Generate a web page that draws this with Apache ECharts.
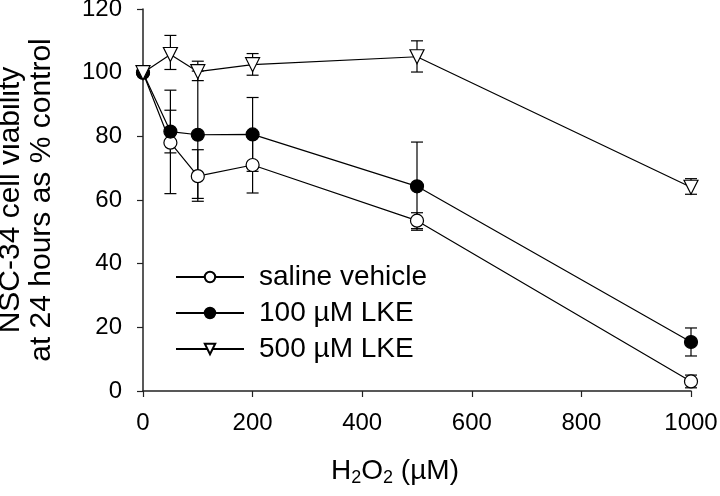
<!DOCTYPE html>
<html>
<head>
<meta charset="utf-8">
<script src="https://cdn.jsdelivr.net/npm/echarts@6/dist/echarts.min.js"></script>
<style>
	html, body {margin:0; padding:0; background:#fff;}
	#chart {width:720px; height:496px;}
</style>
</head>
<body>
<div id="chart"></div>
<script>
// H2O2 doses (uM)
var doseList = [0, 50, 100, 200, 500, 1000];

// saline vehicle
var salineMean = [100, 78, 67.5, 71, 53.5, 3];
var salineLow = [100, 62, 59.6, 62.2, 51, 1];
var salineHigh = [100, 94.5, 75.8, 79.8, 56, 5];

// 100 uM LKE
var lke100Mean = [100, 81.5, 80.5, 80.6, 64.3, 15.4];
var lke100Low = [100, 74.8, 60.5, 69, 50.5, 11];
var lke100High = [100, 88.2, 100.5, 92.2, 78.2, 19.8];

// 500 uM LKE
var lke500Mean = [100, 105.7, 100.3, 102.5, 105, 64];
var lke500Low = [100, 101, 97.5, 99.2, 100.2, 61.8];
var lke500High = [100, 111.7, 103.6, 106, 110, 66.7];

var seriesNames = ["saline vehicle", "100 µM LKE", "500 µM LKE"];
var xTicks = [0, 200, 400, 600, 800, 1000];
var yTicks = [0, 20, 40, 60, 80, 100, 120];

var FONT = "Liberation Sans, Arial, sans-serif";
var downTriangle = "path://M0,0 L10,0 L5,9 Z";

function toPoints(mean){
	var arr = [];
	for(var i=0;i<doseList.length;i++){
		arr.push([doseList[i], mean[i]]);
	}
	return arr;
}

function toBars(low, high){
	var arr = [];
	for(var i=0;i<doseList.length;i++){
		if(low[i] == high[i]) continue;
		arr.push([doseList[i], low[i], high[i]]);
	}
	return arr;
}

// vertical bar with caps
function renderErrorBar(params, api){
	var x = api.value(0);
	var lo = api.coord([x, api.value(1)]);
	var hi = api.coord([x, api.value(2)]);
	var half = 6;
	var style = {stroke: "#000", lineWidth: 1.2};
	return {
		type: "group",
		children: [
			{type: "line", shape: {x1: hi[0], y1: hi[1], x2: lo[0], y2: lo[1]}, style: style},
			{type: "line", shape: {x1: hi[0]-half, y1: hi[1], x2: hi[0]+half, y2: hi[1]}, style: style},
			{type: "line", shape: {x1: lo[0]-half, y1: lo[1], x2: lo[0]+half, y2: lo[1]}, style: style}
		]
	};
}

function errorSeries(low, high){
	return {
		type: "custom",
		renderItem: renderErrorBar,
		data: toBars(low, high),
		encode: {x: 0, y: [1, 2]},
		silent: true,
		z: 1
	};
}

function lineSeries(name, mean, symbol, fill, size){
	return {
		name: name,
		type: "line",
		data: toPoints(mean),
		symbol: symbol,
		symbolSize: size,
		showAllSymbol: true,
		lineStyle: {color: "#000", width: 1.2},
		itemStyle: {color: fill, borderColor: "#000", borderWidth: 1.2},
		emphasis: {disabled: true},
		z: 3
	};
}

var option = {
	animation: false,
	backgroundColor: "#fff",
	grid: {left: 143, right: 29, top: 9, bottom: 105, containLabel: false, outerBoundsMode: "none"},
	legend: {
		orient: "vertical",
		left: 170,
		top: 258,
		itemWidth: 68,
		itemHeight: 13,
		itemGap: 8,
		data: seriesNames,
		textStyle: {fontFamily: FONT, fontSize: 28, color: "#000", padding: [0, 0, 0, 10]}
	},
	xAxis: {
		type: "value",
		min: xTicks[0],
		max: xTicks[xTicks.length-1],
		interval: 200,
		splitLine: {show: false},
		axisLine: {lineStyle: {color: "#222", width: 1.5}},
		axisTick: {length: 6, lineStyle: {color: "#222", width: 1.2}},
		axisLabel: {fontFamily: FONT, fontSize: 24, color: "#000", margin: 20,
			formatter: function(v){ return String(v); }},
		name: "{t|H}{s|2}{t|O}{s|2}{t| (µM)}",
		nameLocation: "middle",
		nameGap: 64,
		nameTextStyle: {
			padding: [0, 44, 0, 0],
			rich: {
				t: {fontFamily: FONT, fontSize: 28, color: "#000"},
				s: {fontFamily: FONT, fontSize: 18, color: "#000", padding: [14, 0, 0, 0]}
			}
		}
	},
	yAxis: {
		type: "value",
		min: yTicks[0],
		max: yTicks[yTicks.length-1],
		interval: 20,
		splitLine: {show: false},
		axisLine: {show: true, lineStyle: {color: "#222", width: 1.5}},
		axisTick: {show: true, length: 6, lineStyle: {color: "#222", width: 1.2}},
		axisLabel: {fontFamily: FONT, fontSize: 24, color: "#000", margin: 21},
		name: "NSC-34 cell viability\nat 24 hours as % control",
		nameLocation: "middle",
		nameRotate: 90,
		nameGap: 86,
		nameTextStyle: {fontFamily: FONT, fontSize: 30, color: "#000", lineHeight: 31}
	},
	series: [
		errorSeries(salineLow, salineHigh),
		errorSeries(lke100Low, lke100High),
		errorSeries(lke500Low, lke500High),
		lineSeries(seriesNames[0], salineMean, "circle", "#fff", 13),
		lineSeries(seriesNames[1], lke100Mean, "circle", "#000", 13),
		lineSeries(seriesNames[2], lke500Mean, downTriangle, "#fff", 14)
	]
};

var myChart = echarts.init(document.getElementById("chart"));
myChart.setOption(option);
</script>
</body>
</html>
